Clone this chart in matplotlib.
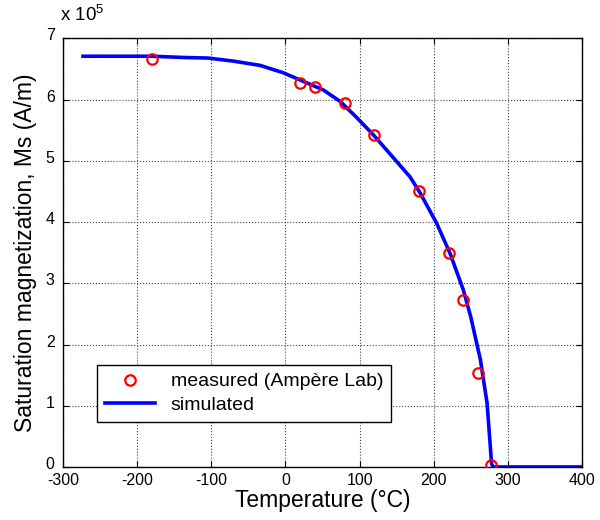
import matplotlib
matplotlib.use("Agg")
import matplotlib.pyplot as plt
from matplotlib.transforms import ScaledTranslation

plt.rcParams['font.family'] = ['Liberation Sans', 'DejaVu Sans']
plt.rcParams['mathtext.fontset'] = 'custom'
plt.rcParams['mathtext.rm'] = 'Liberation Sans'
plt.rcParams['mathtext.it'] = 'Liberation Sans'
plt.rcParams['axes.unicode_minus'] = False

# measured data (x 1e5 A/m)
meas_T = [-180, 20, 40, 80, 120, 180, 220, 240, 260, 277]
meas_M = [6.66, 6.27, 6.21, 5.95, 5.43, 4.51, 3.50, 2.73, 1.53, 0.04]

# simulated curve
sim_T = [-273, -180, -138, -104, -70, -34, -3, 24, 51, 74, 96, 119, 150, 168,
         182, 204, 222, 240, 250, 263, 272, 278, 280, 400]
sim_M = [6.71, 6.71, 6.69, 6.68, 6.63, 6.56, 6.44, 6.30, 6.16, 5.97, 5.71, 5.42,
         4.99, 4.74, 4.47, 3.98, 3.49, 2.89, 2.45, 1.75, 1.04, 0.06, 0.0, 0.0]

x_ticks = [-300, -200, -100, 0, 100, 200, 300, 400]
y_ticks = [0, 1, 2, 3, 4, 5, 6, 7]

fig = plt.figure(figsize=(6, 5.2), dpi=100)
ax = fig.add_axes([0.105, 0.102, 0.865, 0.824])

ax.plot(meas_T, meas_M, linestyle='none', marker='o', markersize=7.5,
        markerfacecolor='none', markeredgecolor='#ff0000', markeredgewidth=1.6,
        label='measured (Ampère Lab)', zorder=3)
ax.plot(sim_T, sim_M, color='#0000ff', linewidth=2.6, label='simulated', zorder=2)

ax.set_xlim(-300, 400)
ax.set_ylim(0, 7)
ax.set_xticks(x_ticks)
ax.set_yticks(y_ticks)
ax.tick_params(direction='in', length=4, width=0.8, top=True, right=True,
               labelsize=11.5)
ax.tick_params(axis='x', pad=4)
ax.tick_params(axis='y', pad=6)
ax.grid(True, linestyle=':', color='#444444', linewidth=0.8)
for s in ax.spines.values():
    s.set_linewidth(1.0)

# MATLAB-style: y tick labels sit slightly above their ticks
shift = ScaledTranslation(0, 4 / 100, fig.dpi_scale_trans)
for lbl in ax.get_yticklabels():
    lbl.set_transform(lbl.get_transform() + shift)

ax.set_xlabel('Temperature (°C)', fontsize=16.5, labelpad=1)
ax.set_ylabel('Saturation magnetization, Ms (A/m)', fontsize=16.5, labelpad=6)

fig.text(0.100, 0.952, r'x 10$^{5}$', fontsize=13.5, ha='left', va='bottom')

leg = ax.legend(loc='lower left', bbox_to_anchor=(0.065, 0.106), fontsize=14,
                frameon=True, fancybox=False, edgecolor='black', framealpha=1,
                handlelength=2.6, borderpad=0.4, labelspacing=0.3,
                handletextpad=0.8, borderaxespad=0)
leg.get_frame().set_linewidth(1.0)

fig.savefig('out.png', dpi=100)
